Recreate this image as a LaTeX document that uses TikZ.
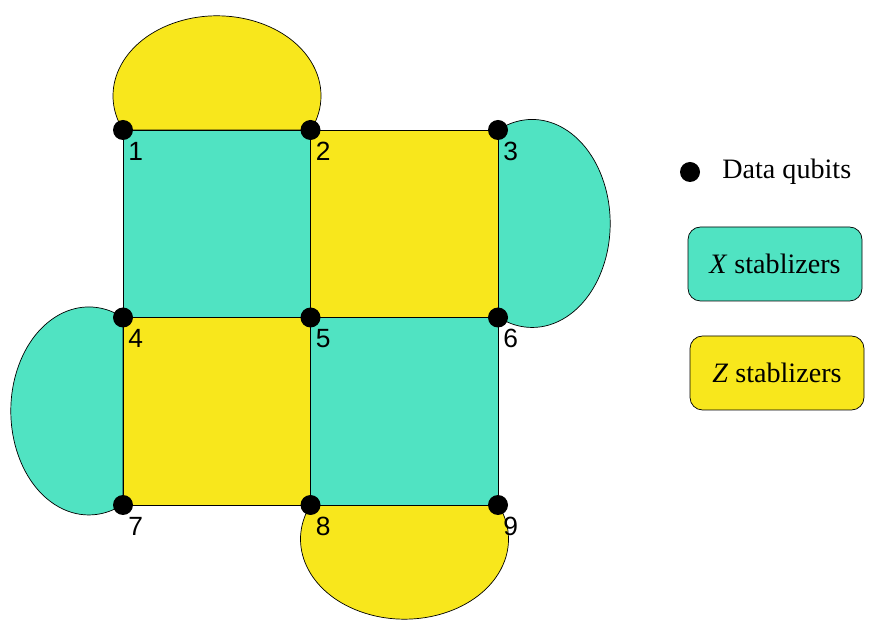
\documentclass[tikz,border=0pt]{standalone}
\usepackage{fontspec}
\setmainfont{Liberation Serif}
\newfontfamily\arial{Liberation Sans}
\usetikzlibrary{positioning}
\definecolor{xcol}{HTML}{50E3C2}
\definecolor{zcol}{HTML}{F8E71C}
\pgfdeclarelayer{bg}
\pgfsetlayers{bg,main}

\begin{document}
\begin{tikzpicture}[node distance={37.5mm}, line width=1pt,
    qubit/.style = {circle, fill=black, inner sep=0pt, minimum size=4mm, outer sep=0pt},
    num/.style = {font=\arial\fontsize{15}{18}\selectfont, inner sep=0pt},
    xface/.style = {draw, fill=xcol},
    zface/.style = {draw, fill=zcol},
    legbox/.style = {draw, rounded corners=2.5mm, minimum width=34.8mm, minimum height=14.8mm, font=\fontsize{16}{19}\selectfont}]
    \useasboundingbox (0,0) rectangle (17.6,-12.42);

    \node[qubit] (q1) at (2.46,-2.6) {};
    \node[qubit] (q2) [right of=q1] {};
    \node[qubit] (q3) [right of=q2] {};
    \node[qubit] (q4) [below of=q1] {};
    \node[qubit] (q5) [right of=q4] {};
    \node[qubit] (q6) [right of=q5] {};
    \node[qubit] (q7) [below of=q4] {};
    \node[qubit] (q8) [right of=q7] {};
    \node[qubit] (q9) [right of=q8] {};

    \node[num] (n1) [below right=0.08cm and -0.05cm of q1] {1};
    \node[num] (n2) [below right=0.08cm and -0.05cm of q2] {2};
    \node[num] (n3) [below right=0.08cm and -0.05cm of q3] {3};
    \node[num] (n4) [below right=0.08cm and -0.05cm of q4] {4};
    \node[num] (n5) [below right=0.08cm and -0.05cm of q5] {5};
    \node[num] (n6) [below right=0.08cm and -0.05cm of q6] {6};
    \node[num] (n7) [below right=0.08cm and -0.05cm of q7] {7};
    \node[num] (n8) [below right=0.08cm and -0.05cm of q8] {8};
    \node[num] (n9) [below right=0.08cm and -0.05cm of q9] {9};

    \begin{pgfonlayer}{bg}
    % boundary lobes
    \draw[zface] (q1.center) arc[start angle=205.3, end angle=-25.3, x radius=2.08, y radius=1.6] -- cycle;
    \draw[xface] (q3.center) arc[start angle=116, end angle=-116, x radius=1.56, y radius=2.08] -- cycle;
    \draw[xface] (q4.center) arc[start angle=64, end angle=296, x radius=1.56, y radius=2.08] -- cycle;
    \draw[zface] (q8.center) arc[start angle=154.7, end angle=385.3, x radius=2.08, y radius=1.6] -- cycle;
    % plaquettes
    \draw[xface] (q1.center) -- (q2.center) -- (q5.center) -- (q4.center) -- cycle;
    \draw[zface] (q2.center) -- (q3.center) -- (q6.center) -- (q5.center) -- cycle;
    \draw[zface] (q4.center) -- (q5.center) -- (q8.center) -- (q7.center) -- cycle;
    \draw[xface] (q5.center) -- (q6.center) -- (q9.center) -- (q8.center) -- cycle;
    \end{pgfonlayer}

    % legend
    \node[qubit] (ldot) at (13.8,-3.44) {};
    \node[font=\fontsize{16}{19}\selectfont, inner sep=0pt] (ltext) [right=4.4mm of ldot] {Data qubits};
    \node[legbox, fill=xcol] (xbox) at (15.5,-5.28) {\textit{X} stablizers};
    \node[legbox, fill=zcol] (zbox) at (15.54,-7.46) {\textit{Z} stablizers};
\end{tikzpicture}
\end{document}
